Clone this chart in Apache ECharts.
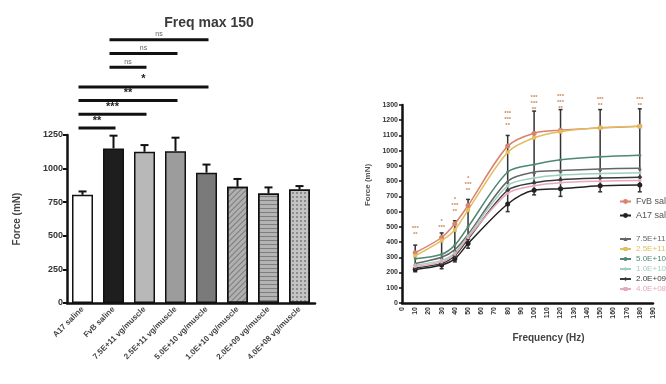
<!DOCTYPE html>
<html>
<head>
<meta charset="utf-8">
<script src="https://cdn.jsdelivr.net/npm/echarts@6/dist/echarts.min.js"></script>
<style>
  html, body { margin: 0; padding: 0; background: #fff; }
  #chart { width: 666px; height: 384px; }
</style>
</head>
<body>
<div id="chart"></div>
<script>
// left panel: force at max frequency (150 Hz)
const groups = ['A17 saline', 'FvB saline', '7.5E+11 vg/muscle', '2.5E+11 vg/muscle', '5.0E+10 vg/muscle', '1.0E+10 vg/muscle', '2.0E+09 vg/muscle', '4.0E+08 vg/muscle']
const forceMax = [805, 1150, 1125, 1130, 970, 865, 815, 845]
const forceErr = [25, 95, 50, 100, 60, 58, 45, 25]

// significance brackets: from group, to group, label
const sigPairs = [[0, 1, '**'], [0, 2, '***'], [0, 3, '**'], [0, 4, '*'], [1, 2, 'ns'], [1, 3, 'ns'], [1, 4, 'ns']]

// right panel: force-frequency curves
const freqs = [10, 30, 40, 50, 80, 100, 120, 150, 180]
const fvbSaline = [330, 430, 520, 640, 1030, 1115, 1135, 1150, 1160]
const a17Saline = [220, 250, 290, 390, 650, 740, 750, 770, 775]
const dose75e11 = [260, 300, 350, 450, 800, 860, 870, 880, 885]
const dose25e11 = [310, 410, 480, 610, 990, 1085, 1125, 1150, 1160]
const dose50e10 = [290, 320, 380, 500, 860, 910, 940, 960, 970]
const dose10e10 = [250, 280, 330, 440, 770, 820, 840, 850, 855]
const dose20e09 = [230, 260, 310, 420, 740, 790, 810, 820, 825]
const dose40e08 = [240, 270, 320, 430, 720, 770, 790, 800, 805]
// spread of the error bars at each frequency
const colLow = [205, 225, 270, 360, 600, 710, 700, 730, 730]
const colHigh = [380, 460, 540, 680, 1100, 1260, 1270, 1270, 1275]
// stars printed above each frequency
const freqSigText = ['***\n**', '*\n***', '*\n***\n**', '*\n***\n**', '***\n***\n**', '***\n***\n**', '***\n***\n**', '***\n**', '***\n**']
const freqSigY = [430, 480, 580, 720, 1150, 1250, 1260, 1280, 1280]

const FONT = 'Liberation Sans, Arial, sans-serif'

const barLook = [
  { color: '#ffffff' },
  { color: '#1e1e1e' },
  { color: '#b8b8b8' },
  { color: '#9c9c9c' },
  { color: '#7a7a7a' },
  { color: '#b0b0b0', decal: { symbol: 'rect', dashArrayX: [1, 0], dashArrayY: [1, 3], rotation: -Math.PI / 4, color: 'rgba(60,60,60,0.45)' } },
  { color: '#b4b4b4', decal: { symbol: 'rect', dashArrayX: [1, 0], dashArrayY: [1, 3], rotation: 0, color: 'rgba(60,60,60,0.45)' } },
  { color: '#c4c4c4', decal: { symbol: 'rect', symbolSize: 1, dashArrayX: [2, 2], dashArrayY: [2, 2], color: 'rgba(60,60,60,0.4)' } }
]

const curves = [
  { name: 'FvB saline', data: fvbSaline, color: '#d9826e', symbol: 'circle', size: 5 },
  { name: 'A17 saline', data: a17Saline, color: '#222222', symbol: 'circle', size: 5 },
  { name: '7.5E+11 vg/muscle', data: dose75e11, color: '#666666', symbol: 'triangle', size: 4 },
  { name: '2.5E+11 vg/muscle', data: dose25e11, color: '#e3bd5e', symbol: 'rect', size: 4 },
  { name: '5.0E+10 vg/muscle', data: dose50e10, color: '#4f8770', symbol: 'circle', size: 3 },
  { name: '1.0E+10 vg/muscle', data: dose10e10, color: '#9fcfc0', symbol: 'diamond', size: 4 },
  { name: '2.0E+09 vg/muscle', data: dose20e09, color: '#3a3a3a', symbol: 'diamond', size: 5 },
  { name: '4.0E+08 vg/muscle', data: dose40e08, color: '#e7a9b8', symbol: 'rect', size: 3 }
]

const chart = echarts.init(document.getElementById('chart'))

const axisText = { fontFamily: FONT, fontWeight: 'bold', color: '#333' }
const plain = v => String(v)

const option = {
  backgroundColor: '#fff',
  animation: false,
  title: {
    text: 'Freq max 150',
    left: 204,
    top: 11,
    textAlign: 'center',
    textStyle: { fontFamily: FONT, fontSize: 14, fontWeight: 'bold', color: '#3a3a3a' }
  },
  legend: [{
    data: ['FvB saline', 'A17 saline'],
    orient: 'vertical',
    left: 614,
    top: 192,
    itemWidth: 11,
    itemHeight: 6,
    itemGap: 5,
    textStyle: { fontFamily: FONT, fontSize: 9, color: '#555' }
  }, {
    data: curves.slice(2).map(c => ({ name: c.name, textStyle: { color: c.color } })),
    orient: 'vertical',
    left: 614,
    top: 230,
    itemWidth: 11,
    itemHeight: 5,
    itemGap: 2,
    textStyle: { fontFamily: FONT, fontSize: 8 }
  }],
  grid: [
    { left: 67, top: 135, width: 248, height: 168 },
    { left: 402, top: 105, width: 251, height: 198 }
  ],
  xAxis: [{
    gridIndex: 0,
    type: 'category',
    data: groups,
    axisLine: { lineStyle: { color: '#111', width: 2.5 } },
    axisTick: { show: false },
    axisLabel: { ...axisText, fontSize: 8, rotate: 45, interval: 0, margin: 5, color: '#444' }
  }, {
    gridIndex: 1,
    type: 'value',
    min: 0,
    max: 190,
    interval: 10,
    splitLine: { show: false },
    axisLine: { lineStyle: { color: '#111', width: 2.5 } },
    axisTick: { show: false },
    axisLabel: { ...axisText, fontSize: 7, rotate: 90, margin: 4, formatter: plain },
    name: 'Frequency (Hz)',
    nameLocation: 'middle',
    nameGap: 30,
    nameTextStyle: { fontFamily: FONT, fontSize: 10, fontWeight: 'bold', color: '#444', padding: [0, 0, 0, 42] }
  }],
  yAxis: [{
    gridIndex: 0,
    type: 'value',
    min: 0,
    max: 1250,
    interval: 250,
    splitLine: { show: false },
    axisLine: { show: true, lineStyle: { color: '#111', width: 2.5 } },
    axisTick: { show: true, length: 4, lineStyle: { width: 2 } },
    axisLabel: { ...axisText, fontSize: 9, margin: 4, formatter: plain },
    name: 'Force (mN)',
    nameLocation: 'middle',
    nameGap: 45,
    nameTextStyle: { fontFamily: FONT, fontSize: 10, fontWeight: 'bold', color: '#444' }
  }, {
    gridIndex: 1,
    type: 'value',
    min: 0,
    max: 1300,
    interval: 100,
    splitLine: { show: false },
    axisLine: { show: true, lineStyle: { color: '#111', width: 2.5 } },
    axisTick: { show: true, length: 3, lineStyle: { width: 1.5 } },
    axisLabel: { ...axisText, fontSize: 7, margin: 4, formatter: plain },
    name: 'Force (mN)',
    nameLocation: 'middle',
    nameGap: 30,
    nameTextStyle: { fontFamily: FONT, fontSize: 8, fontWeight: 'bold', color: '#555', padding: [0, 0, 0, 38] }
  }],
  series: [
    {
      type: 'bar',
      xAxisIndex: 0,
      yAxisIndex: 0,
      barWidth: 21,
      data: forceMax.map((v, i) => ({
        value: v,
        itemStyle: { color: barLook[i].color, decal: barLook[i].decal, borderColor: '#111', borderWidth: 1.5 }
      }))
    },
    {
      type: 'custom',
      xAxisIndex: 0,
      yAxisIndex: 0,
      z: 5,
      data: forceMax.map((v, i) => [i, v, forceErr[i]]),
      renderItem: (params, api) => {
        const base = api.coord([api.value(0), api.value(1)])
        const top = api.coord([api.value(0), api.value(1) + api.value(2)])
        const style = { stroke: '#111', lineWidth: 2 }
        return {
          type: 'group',
          children: [
            { type: 'line', shape: { x1: base[0], y1: base[1], x2: top[0], y2: top[1] }, style },
            { type: 'line', shape: { x1: top[0] - 4, y1: top[1], x2: top[0] + 4, y2: top[1] }, style }
          ]
        }
      }
    },
    {
      type: 'custom',
      xAxisIndex: 0,
      yAxisIndex: 0,
      z: 5,
      data: sigPairs.map((p, i) => [p[0], p[1], i]),
      renderItem: (params, api) => {
        const idx = params.dataIndex
        const p = sigPairs[idx]
        const x1 = api.coord([p[0], 0])[0] - 4
        const x2 = api.coord([p[1], 0])[0] + 2
        const top = api.coord([0, 1250])[1]
        const y = top - 7 - idx * 13.7 - (idx >= 4 ? 6 : 0)
        const isNs = p[2] === 'ns'
        return {
          type: 'group',
          children: [
            { type: 'line', shape: { x1, y1: y, x2, y2: y }, style: { stroke: '#111', lineWidth: 3 } },
            {
              type: 'text',
              x: (x1 + x2) / 2,
              y: y - 2,
              style: {
                text: p[2],
                fill: isNs ? '#666' : '#222',
                font: (isNs ? '7px ' : 'bold 11px ') + FONT,
                align: 'center',
                verticalAlign: 'bottom'
              }
            }
          ]
        }
      }
    },
    {
      type: 'custom',
      xAxisIndex: 1,
      yAxisIndex: 1,
      z: 1,
      data: freqs.map((f, i) => [f, colLow[i], colHigh[i]]),
      renderItem: (params, api) => {
        const lo = api.coord([api.value(0), api.value(1)])
        const hi = api.coord([api.value(0), api.value(2)])
        const style = { stroke: '#333', lineWidth: 1.5 }
        return {
          type: 'group',
          children: [
            { type: 'line', shape: { x1: lo[0], y1: lo[1], x2: hi[0], y2: hi[1] }, style },
            { type: 'line', shape: { x1: hi[0] - 2, y1: hi[1], x2: hi[0] + 2, y2: hi[1] }, style },
            { type: 'line', shape: { x1: lo[0] - 2, y1: lo[1], x2: lo[0] + 2, y2: lo[1] }, style }
          ]
        }
      }
    },
    {
      type: 'custom',
      xAxisIndex: 1,
      yAxisIndex: 1,
      z: 6,
      data: freqs.map((f, i) => [f, freqSigY[i]]),
      renderItem: (params, api) => {
        const pt = api.coord([api.value(0), api.value(1)])
        return {
          type: 'text',
          x: pt[0],
          y: pt[1],
          style: {
            text: freqSigText[params.dataIndex],
            fill: '#c98a5a',
            font: 'bold 6px ' + FONT,
            lineHeight: 6,
            align: 'center',
            verticalAlign: 'bottom'
          }
        }
      }
    },
    ...curves.map(c => ({
      name: c.name,
      type: 'line',
      xAxisIndex: 1,
      yAxisIndex: 1,
      z: 3,
      smooth: 0.3,
      symbol: c.symbol,
      symbolSize: c.size,
      data: freqs.map((f, i) => [f, c.data[i]]),
      lineStyle: { color: c.color, width: 1.5 },
      itemStyle: { color: c.color }
    }))
  ]
}

chart.setOption(option)
</script>
</body>
</html>
